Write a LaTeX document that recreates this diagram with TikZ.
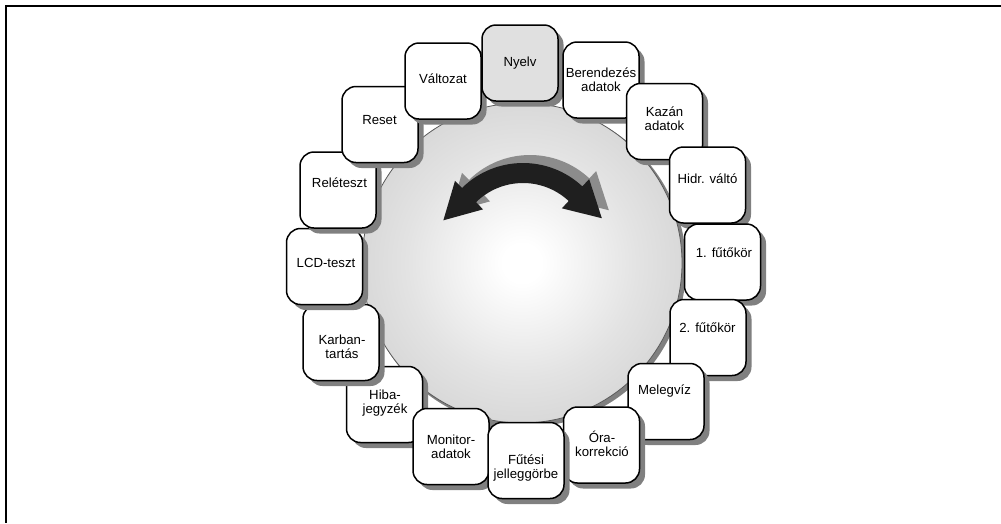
\documentclass[tikz,border=0pt]{standalone}
\usepackage{fontspec}
\setmainfont{Liberation Sans}
\usetikzlibrary{shadows,calc}
\pgfdeclareradialshading{diskshade}{\pgfpoint{0bp}{0bp}}{color(0bp)=(white); color(3bp)=(white); color(18bp)=(black!11); color(32bp)=(black!19); color(44bp)=(black!26); color(48.5bp)=(black!32); color(50bp)=(black!50)}
\newcommand\dblarrowpath[1]{($(#1)+(-134.5:87)$) arc[start angle=-134.5, end angle=-47, radius=87]
  -- ($(#1)+(-47:97)$) -- ($(#1)+(-47:77)+(43:36)$) -- ($(#1)+(-47:57)$) -- ($(#1)+(-47:67)$)
  arc[start angle=-47, end angle=-134.5, radius=67]
  -- ($(#1)+(-134.5:57)$) -- ($(#1)+(-134.5:77)+(135.5:36)$) -- ($(#1)+(-134.5:97)$) -- cycle}
\begin{document}
\begin{tikzpicture}[x=1pt,y=-1pt,
  box/.style={draw, line width=1.5pt, rounded corners=14pt, minimum width=76pt, minimum height=76pt,
    inner sep=0pt, fill=white, drop shadow={shadow xshift=5.5pt, shadow yshift=-5.5pt, fill=black!50, opacity=1}},
  lbl/.style={font=\fontsize{13.2}{13.6}\selectfont, align=center, inner sep=0pt}]
\useasboundingbox (0,0) rectangle (1001,523);
\coordinate (fr1) at (1001,6);
\coordinate (fr2) at (6,6);
\coordinate (fr3) at (6,523);
\draw[line width=1.6pt] (fr1) -- (fr2) -- (fr3);
% disk
\coordinate (dc) at (522,263);
\fill[black!50] ($(dc)+(3,3)$) circle[radius=161];
\shade[shading=diskshade, draw=black!65, line width=0.8pt] (dc) circle[radius=160];
% double arrow
\coordinate (ac) at (523,250);
\coordinate (acs) at (530,242);
\fill[black!45] \dblarrowpath{acs};
\fill[black!88] \dblarrowpath{ac};
% boxes
\node[box] (b11) at (384.5,404.5) {};
\node[lbl] (t11) at (385,403) {Hiba-\\jegyzék};
\node[box] (b12) at (341,342.5) {};
\node[lbl] (t12) at (342,346.5) {Karban-\\tartás};
\node[box] (b13) at (324.5,266.5) {};
\node[lbl] (t13) at (326,263) {LCD-teszt};
\node[box] (b14) at (338,190) {};
\node[lbl] (t14) at (339.5,183) {Reléteszt};
\node[box] (b15) at (380,124.5) {};
\node[lbl] (t15) at (379.5,120) {Reset};
\node[box] (b16) at (443,81) {};
\node[lbl] (t16) at (443,79) {Változat};
\node[box, fill=black!12] (b1) at (520,63) {};
\node[lbl] (t1) at (520,63) {Nyelv};
\node[box] (b2) at (601,80) {};
\node[lbl] (t2) at (601,79.5) {Berendezés\\adatok};
\node[box] (b3) at (664.5,121.5) {};
\node[lbl] (t3) at (664.5,118.5) {Kazán\\adatok};
\node[box] (b4) at (707.5,185) {};
\node[lbl] (t4) at (707.5,179) {Hidr. váltó};
\node[box] (b5) at (722.5,262) {};
\node[lbl] (t5) at (724,253) {1. fűtőkör};
\node[box] (b6) at (708,337.5) {};
\node[lbl] (t6) at (707.5,328) {2. fűtőkör};
\node[box] (b7) at (666,401.5) {};
\node[lbl] (t7) at (664.5,391) {Melegvíz};
\node[box] (b8) at (601.5,445) {};
\node[lbl] (t8) at (602,444) {Óra-\\korrekció};
\node[box] (b10) at (451,446.5) {};
\node[lbl] (t10) at (451,446.5) {Monitor-\\adatok};
\node[box] (b9) at (526,460.5) {};
\node[lbl] (t9) at (526,468) {Fűtési\\jelleggörbe};
\end{tikzpicture}
\end{document}
